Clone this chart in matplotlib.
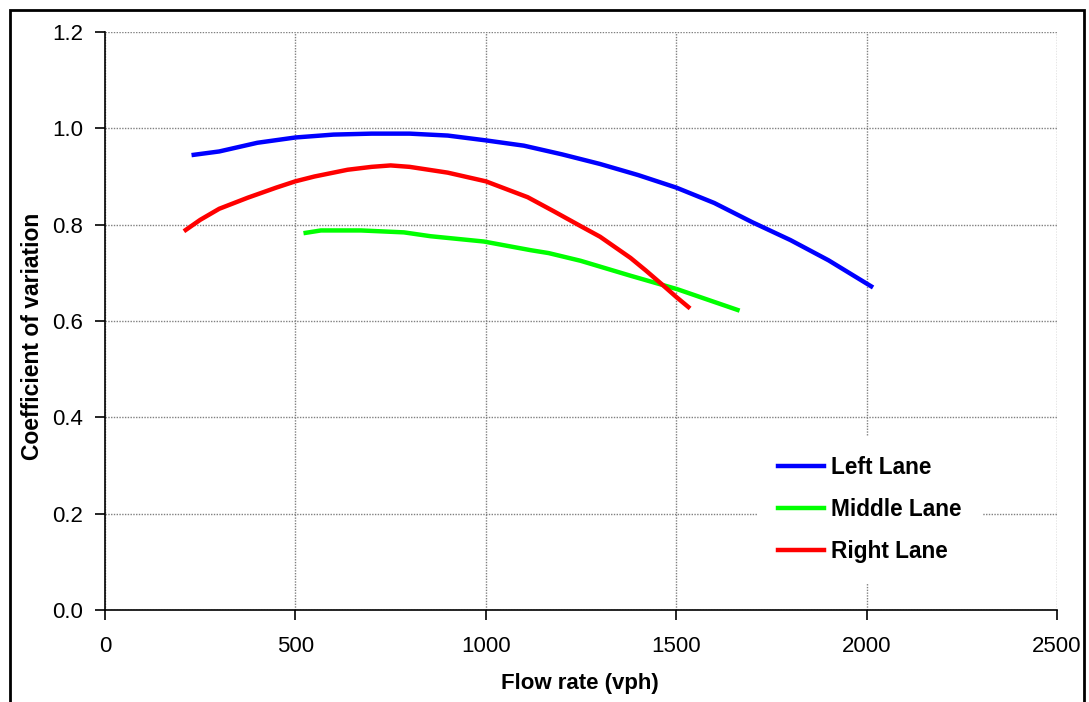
import matplotlib
matplotlib.use("Agg")
import matplotlib.pyplot as plt
from matplotlib.patches import Rectangle

plt.rcParams['font.family'] = ['Liberation Sans', 'DejaVu Sans']

# Data
left_flow = [233, 300, 400, 500, 600, 700, 800, 900, 1000, 1100, 1200, 1300,
             1400, 1500, 1600, 1700, 1800, 1900, 2012]
left_cv = [0.945, 0.952, 0.970, 0.981, 0.987, 0.989, 0.989, 0.985, 0.975, 0.964,
           0.946, 0.926, 0.903, 0.877, 0.845, 0.805, 0.768, 0.726, 0.672]

middle_flow = [527, 567, 672, 785, 855, 995, 1118, 1165, 1249, 1380, 1503, 1580, 1661]
middle_cv = [0.783, 0.788, 0.788, 0.784, 0.776, 0.765, 0.747, 0.741, 0.725, 0.694,
             0.666, 0.645, 0.623]

right_flow = [212, 250, 300, 375, 450, 500, 550, 637, 700, 750, 800, 850, 900, 1000,
              1110, 1178, 1249, 1300, 1380, 1420, 1467, 1500, 1532]
right_cv = [0.789, 0.810, 0.833, 0.856, 0.877, 0.890, 0.900, 0.914, 0.920, 0.923,
            0.920, 0.914, 0.908, 0.890, 0.857, 0.828, 0.797, 0.775, 0.731, 0.705,
            0.673, 0.650, 0.629]

x_ticks = [0, 500, 1000, 1500, 2000, 2500]
y_ticks = [0.0, 0.2, 0.4, 0.6, 0.8, 1.0, 1.2]

fig = plt.figure(figsize=(10.89, 7.02), dpi=100)
ax = fig.add_axes([105 / 1089, 92 / 702, 952 / 1089, 578 / 702])

ax.plot(left_flow, left_cv, color='#0000FF', lw=3.2, label='Left Lane')
ax.plot(middle_flow, middle_cv, color='#00FF00', lw=3.2, label='Middle Lane')
ax.plot(right_flow, right_cv, color='#FF0000', lw=3.2, label='Right Lane')

ax.set_xlim(0, 2500)
ax.set_ylim(0, 1.2)
ax.set_xticks(x_ticks)
ax.set_yticks(y_ticks)
ax.set_yticklabels([f"{v:.1f}" for v in y_ticks])
ax.grid(True, color='#808080', linestyle=(0, (1, 1)), linewidth=1)
ax.set_axisbelow(True)

for s in ['top', 'right']:
    ax.spines[s].set_visible(False)
for s in ['left', 'bottom']:
    ax.spines[s].set_linewidth(1.2)
    ax.spines[s].set_color('black')

ax.tick_params(axis='both', direction='out', length=7, width=1.2, labelsize=16)
ax.tick_params(axis='x', pad=11.5)
ax.tick_params(axis='y', pad=8.5)

ax.set_xlabel('Flow rate (vph)', fontsize=16, fontweight='bold')
ax.set_ylabel('Coefficient of variation', fontsize=16.5, fontweight='bold')
ax.xaxis.label.set_va('center')
ax.yaxis.label.set_va('center')
ax.xaxis.set_label_coords(0.499, -0.128)
ax.yaxis.set_label_coords(-0.0762, 0.474)

leg = ax.legend(loc='center', bbox_to_anchor=(0.8035, 0.174),
                prop={'weight': 'bold', 'size': 16.3},
                frameon=True, facecolor='white', edgecolor='none', framealpha=1,
                fancybox=False, handlelength=2.04, handletextpad=0.32,
                labelspacing=0.84, borderpad=0.9)

fig.patches.append(Rectangle((10 / 1089, -0.05), (1084 - 10) / 1089, (702 - 10) / 702 + 0.05,
                             transform=fig.transFigure, fill=False, edgecolor='black',
                             linewidth=2, clip_on=False))

fig.savefig('out.png', dpi=100)
